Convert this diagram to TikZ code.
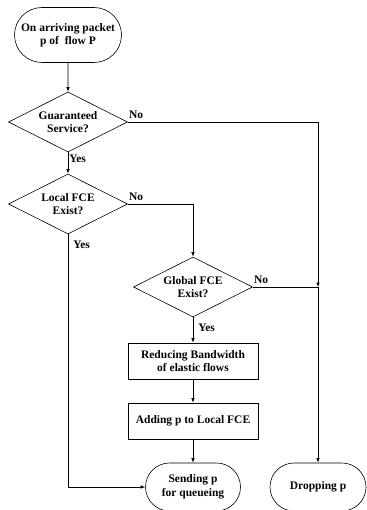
\documentclass[tikz,border=0pt]{standalone}
\usepackage{fontspec}
\setmainfont{Liberation Serif}
\usetikzlibrary{shapes.geometric,shapes.misc,arrows.meta}

\tikzset{
  every node/.style={font=\fontsize{11.5}{13.5}\selectfont\bfseries, align=center},
  termbox/.style={draw, rounded rectangle, inner sep=0pt},
  decbox/.style={draw, diamond, aspect=2, inner sep=0pt, minimum width=119pt, minimum height=60pt},
  actbox/.style={draw, rectangle, inner sep=0pt, minimum width=130pt, minimum height=36pt},
  lbl/.style={inner sep=1pt},
  arr/.style={-{Latex[length=4.5pt,width=3.5pt]}}
}

\begin{document}
\begin{tikzpicture}[x=1pt,y=-1pt,line width=0.6pt]
  \useasboundingbox (0,0) rectangle (366,510);
  % flow nodes
  \node[termbox, minimum width=107pt, minimum height=55pt] (start) at (68,35) {On arriving packet\\p of\ \ flow P};
  \node[decbox] (guar) at (68,122) {Guaranteed\\Service?};
  \node[decbox] (local) at (68,204) {Local FCE\\Exist?};
  \node[decbox] (global) at (193,287) {Global FCE\\Exist?};
  \node[actbox] (reduce) at (193,361) {Reducing Bandwidth\\of elastic flows};
  \node[actbox] (adding) at (193,421) {Adding p to Local FCE};
  \node[termbox, minimum width=95pt, minimum height=48pt] (send) at (193,487) {Sending p\\for queueing};
  \node[termbox, minimum width=96pt, minimum height=48pt] (drop) at (318,487) {Dropping p};
  \coordinate (j) at (drop.north |- global.east);
  % labels
  \node[lbl, anchor=south west] (no1) at ([yshift=2pt]guar.east) {No};
  \node[lbl, anchor=north west] (yes1) at ([yshift=-1pt]guar.south) {Yes};
  \node[lbl, anchor=south west] (no2) at ([yshift=2pt]local.east) {No};
  \node[lbl, anchor=north west] (yes2) at ([xshift=4pt,yshift=-5pt]local.south) {Yes};
  \node[lbl, anchor=south west] (no3) at ([yshift=2pt]global.east) {No};
  \node[lbl, anchor=north west] (yes3) at ([xshift=4pt,yshift=-5pt]global.south) {Yes};
  % connectors
  \draw[arr] (start) -- (guar);
  \draw[arr] (guar) -- (local);
  \draw[arr] (guar.east) -| (j);
  \draw[arr] (j) -- (drop);
  \draw (global.east) -- (j);
  \draw[arr] (local.east) -| (global.north);
  \draw[arr] (local.south) |- (send.west);
  \draw[arr] (global) -- (reduce);
  \draw[arr] (reduce) -- (adding);
  \draw[arr] (adding) -- (send);
\end{tikzpicture}
\end{document}
